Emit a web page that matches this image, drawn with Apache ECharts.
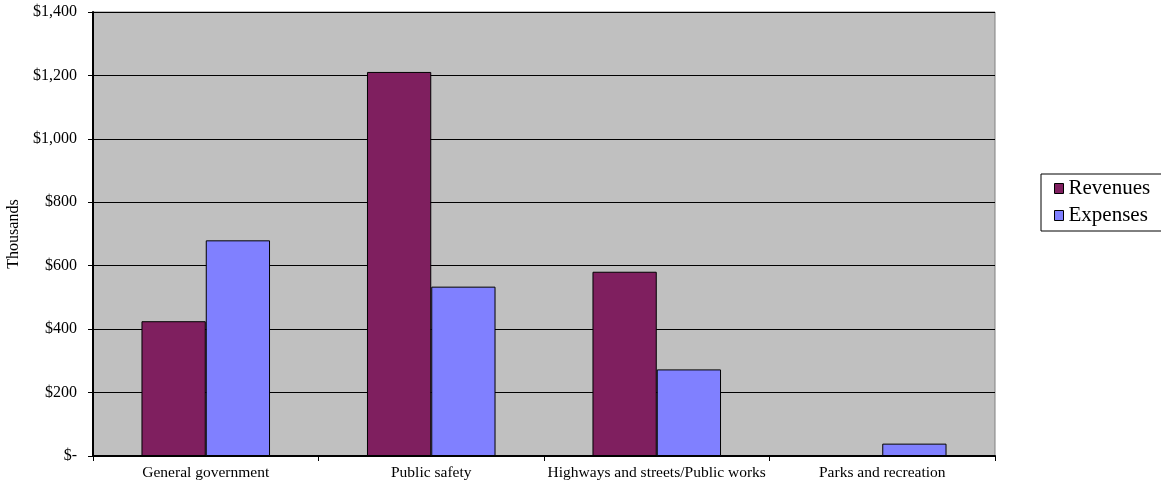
<!DOCTYPE html>
<html>
<head>
<meta charset="utf-8">
<script src="https://cdn.jsdelivr.net/npm/echarts@6/dist/echarts.min.js"></script>
<style>
  html, body { margin: 0; padding: 0; background: #ffffff; }
  #chart { width: 1161px; height: 486px; }
</style>
</head>
<body>
<div id="chart"></div>
<script>
// Governmental activities by function (in thousands of dollars)
const categories = ['General government', 'Public safety', 'Highways and streets/Public works', 'Parks and recreation'];
const revenues = [425, 1211, 581, 0];
const expenses = [680, 534, 273, 39];
const yTicks = [0, 200, 400, 600, 800, 1000, 1200, 1400];

const serif = '"Liberation Serif", "DejaVu Serif", serif';

function money(v) {
  if (v === 0) return '$-';
  return '$' + v.toLocaleString('en-US');
}

const chart = echarts.init(document.getElementById('chart'), null, { renderer: 'canvas' });
chart.setOption({
  animation: false,
  backgroundColor: '#ffffff',
  grid: {
    left: 93, right: 166, top: 12, bottom: 30,
    outerBoundsMode: 'none',
    containLabel: false,
    show: true,
    backgroundColor: '#c0c0c0',
    borderColor: '#808080',
    borderWidth: 1
  },
  legend: {
    orient: 'vertical',
    left: 1041, top: 174,
    padding: [4, 30, 5, 13],
    itemGap: 6,
    itemWidth: 9, itemHeight: 10,
    borderColor: '#000000', borderWidth: 1,
    icon: 'rect',
    textStyle: { fontFamily: serif, fontSize: 21, color: '#000000' },
    data: [
      { name: 'Revenues', itemStyle: { borderColor: '#000', borderWidth: 1 } },
      { name: 'Expenses', itemStyle: { borderColor: '#000', borderWidth: 1 } }
    ]
  },
  xAxis: {
    type: 'category',
    data: categories,
    axisLine: { lineStyle: { color: '#000000', width: 2 } },
    axisTick: { show: true, interval: 0, length: 5, lineStyle: { color: '#000000' } },
    axisLabel: { interval: 0, hideOverlap: false, fontFamily: serif, fontSize: 15.5, color: '#000000', margin: 9 }
  },
  yAxis: {
    type: 'value',
    min: yTicks[0], max: yTicks[yTicks.length - 1], interval: 200,
    name: 'Thousands',
    nameLocation: 'middle',
    nameGap: 68,
    nameRotate: 90,
    nameTextStyle: { fontFamily: serif, fontSize: 16, color: '#000000' },
    axisLine: { show: true, lineStyle: { color: '#000000', width: 2 } },
    axisTick: { show: true, length: 5, lineStyle: { color: '#000000' } },
    axisLabel: { fontFamily: serif, fontSize: 16, color: '#000000', margin: 16, formatter: money },
    splitLine: { lineStyle: { color: '#000000', width: 1 } }
  },
  series: [
    {
      name: 'Revenues', type: 'bar', data: revenues,
      barGap: '0%', barCategoryGap: '43%',
      itemStyle: { color: '#7f1f5f', borderColor: '#000000', borderWidth: 1 }
    },
    {
      name: 'Expenses', type: 'bar', data: expenses,
      barGap: '0%', barCategoryGap: '43%',
      itemStyle: { color: '#8080ff', borderColor: '#000000', borderWidth: 1 }
    }
  ]
});
</script>
</body>
</html>
